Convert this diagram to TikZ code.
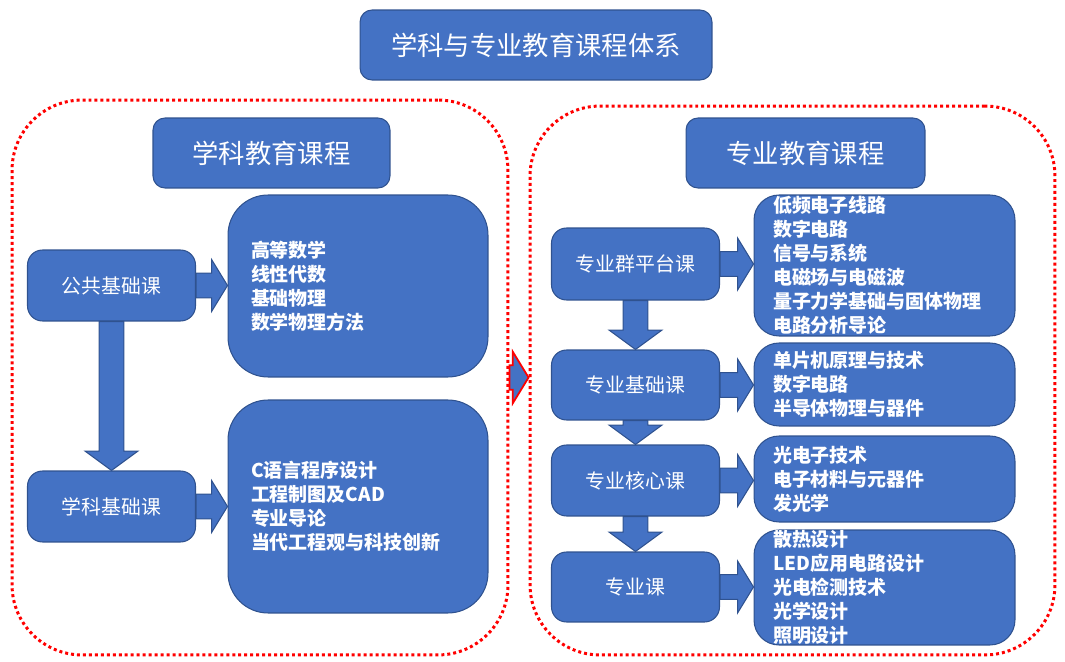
\documentclass[tikz,border=0pt]{standalone}
\usepackage{fontspec}
\setmainfont{Noto Sans CJK SC}
\usetikzlibrary{calc}

\definecolor{boxblue}{HTML}{4472C4}
\definecolor{boxline}{HTML}{2F528F}

\tikzset{
  box/.style={draw=boxline, fill=boxblue, text=white, line width=0.6pt, rounded corners=0.3cm, inner sep=0pt},
  headbox/.style={box, rounded corners=0.24cm, minimum height=1.4cm, font=\fontsize{15}{18}\selectfont},
  coursebox/.style={box, minimum width=3.36cm, minimum height=1.42cm, font=\fontsize{11.3}{13.6}\selectfont},
  listbox/.style={box, align=left, font=\bfseries\fontsize{10.8}{13.6}\selectfont},
  groupbox/.style={draw=red, line width=1.7pt, dash pattern=on 1.7pt off 1.7pt, rounded corners=1.4cm, inner sep=0pt},
  blockarrow/.style={draw=boxline, fill=boxblue, line width=0.6pt},
}

% fat arrow from one node to the next (left to right)
\newcommand\harrow[3][]{%
  \path[blockarrow,#1] let \p1=(#2.east), \p2=(#3.west) in
    (\x1,\y1+7pt) -- (\x2-9pt,\y1+7pt) -- (\x2-9pt,\y1+14.7pt) -- (\x2,\y1)
    -- (\x2-9pt,\y1-14.7pt) -- (\x2-9pt,\y1-7pt) -- (\x1,\y1-7pt) -- cycle;}
% fat arrow from one node down to the next
\newcommand\varrow[2]{%
  \path[blockarrow] let \p1=(#1.south), \p2=(#2.north) in
    (\x1-7pt,\y1) -- (\x1-7pt,\y2+11pt) -- (\x1-15pt,\y2+11pt) -- (\x1,\y2)
    -- (\x1+15pt,\y2+11pt) -- (\x1+7pt,\y2+11pt) -- (\x1+7pt,\y1) -- cycle;}

\begin{document}
\begin{tikzpicture}[x=0.02cm, y=-0.02cm]
  \useasboundingbox (0,0) rectangle (1065,662);

  % Dotted groups
  \node[groupbox, minimum width=9.92cm, minimum height=11.1cm] (gsub) at (260,377.5) {};
  \node[groupbox, minimum width=10.5cm, minimum height=10.98cm] (gpro) at (792.5,380.5) {};
  \harrow[draw=red, line width=1pt]{gsub}{gpro}

  % Headings
  \node[headbox, minimum width=7.04cm] (title) at (536,45) {学科与专业教育课程体系};
  \node[headbox, minimum width=4.74cm] (hsub) at (271.5,153) {学科教育课程};
  \node[headbox, minimum width=4.78cm] (hpro) at (805.5,153) {专业教育课程};

  % Left column
  \node[coursebox] (ggjc) at (111.5,285.5) {公共基础课};
  \node[coursebox] (xkjc) at (111.5,506.5) {学科基础课};
  \node[listbox, rounded corners=0.8cm, text width=4.28cm, inner xsep=0.46cm, minimum height=3.64cm]
    (lgg) at (358,286) {高等数学\\线性代数\\基础物理\\数学物理方法};
  \node[listbox, rounded corners=0.8cm, text width=4.28cm, inner xsep=0.46cm, minimum height=4.26cm]
    (lxk) at (358,506.5) {C语言程序设计\\工程制图及CAD\\专业导论\\当代工程观与科技创新};

  % Right column
  \node[coursebox, minimum height=1.44cm] (zyq) at (635.5,264) {专业群平台课};
  \node[coursebox, minimum height=1.4cm] (zyjc) at (635.5,385) {专业基础课};
  \node[coursebox] (zyhx) at (635.5,480.5) {专业核心课};
  \node[coursebox, minimum height=1.4cm] (zyk) at (635.5,587) {专业课};
  \node[listbox, rounded corners=0.5cm, text width=4.46cm, inner xsep=0.38cm, minimum height=2.82cm]
    (lzyq) at (884.5,265.5) {低频电子线路\\数字电路\\信号与系统\\电磁场与电磁波\\量子力学基础与固体物理\\电路分析导论};
  \node[listbox, rounded corners=0.5cm, text width=4.46cm, inner xsep=0.38cm, minimum height=1.66cm]
    (lzyjc) at (884.5,384.5) {单片机原理与技术\\数字电路\\半导体物理与器件};
  \node[listbox, rounded corners=0.5cm, text width=4.46cm, inner xsep=0.38cm, minimum height=1.72cm]
    (lzyhx) at (884.5,479) {光电子技术\\电子材料与元器件\\发光学};
  \node[listbox, rounded corners=0.5cm, text width=4.46cm, inner xsep=0.38cm, minimum height=2.3cm]
    (lzyk) at (884.5,587.5) {散热设计\\LED应用电路设计\\光电检测技术\\光学设计\\照明设计};

  % Block arrows
  \varrow{ggjc}{xkjc}
  \harrow{ggjc}{lgg}
  \harrow{xkjc}{lxk}
  \varrow{zyq}{zyjc}
  \varrow{zyjc}{zyhx}
  \varrow{zyhx}{zyk}
  \harrow{zyq}{lzyq}
  \harrow{zyjc}{lzyjc}
  \harrow{zyhx}{lzyhx}
  \harrow{zyk}{lzyk}
\end{tikzpicture}
\end{document}
